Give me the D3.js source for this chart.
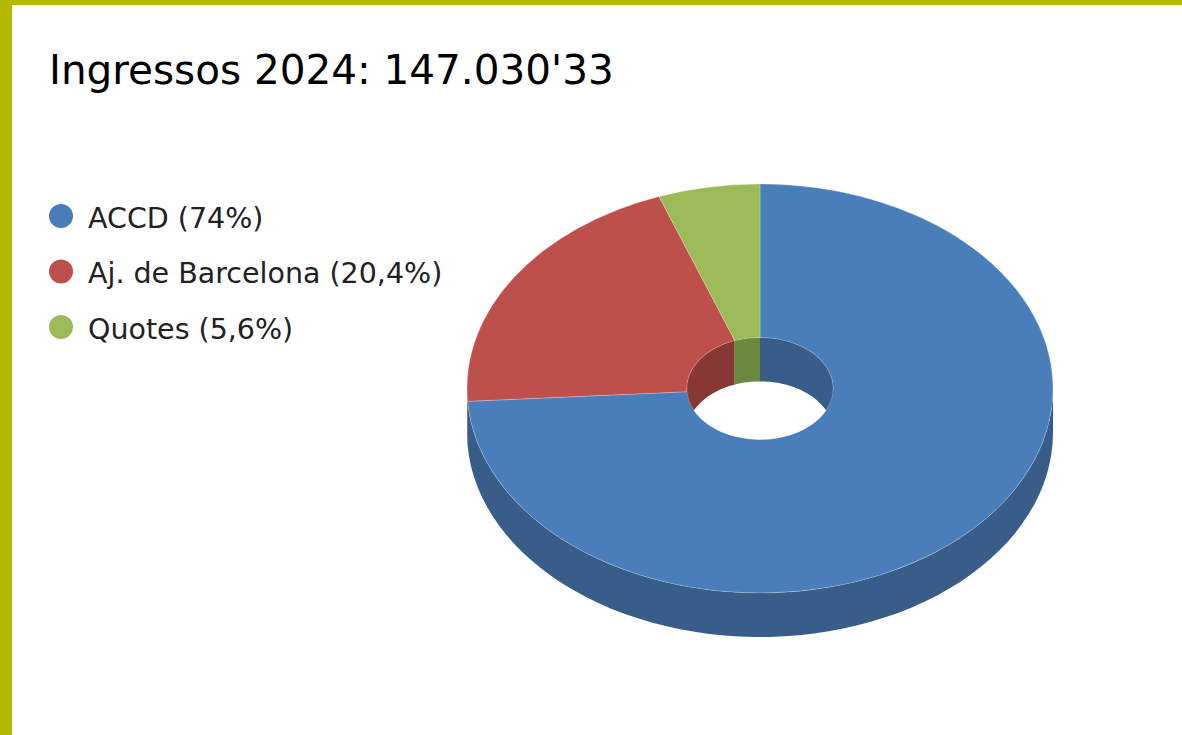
<!DOCTYPE html>
<html>
<head>
<meta charset="utf-8">
<script src="https://cdn.jsdelivr.net/npm/d3@7"></script>
<style>
  html, body { margin: 0; padding: 0; background: #fff; }
  svg { display: block; }
</style>
</head>
<body>
<div id="chart"></div>
<script>
// chart data
const titleText = "Ingressos 2024: 147.030'33";
const categories = ['ACCD', 'Aj. de Barcelona', 'Quotes'];
const shares = [74, 20.4, 5.6];
const shareLabels = ['74%', '20,4%', '5,6%'];
const topColors = ['#4a7ebb', '#be504c', '#9bbb59'];
const sideColors = ['#385d88', '#883834', '#6a8a3d'];

const width = 1182;
const height = 735;

const svg = d3.select('#chart').append('svg')
    .attr('width', width)
    .attr('height', height);

// frame
svg.append('rect').attr('x', 0).attr('y', 0).attr('width', width).attr('height', height).attr('fill', '#b3ba00');
svg.append('rect').attr('x', 12).attr('y', 5).attr('width', width - 12).attr('height', height - 5).attr('fill', '#fff');

svg.append('text')
    .attr('x', 49)
    .attr('y', 84)
    .attr('font-family', 'DejaVu Sans, Verdana, sans-serif')
    .attr('font-size', 40.5)
    .attr('fill', '#000')
    .text(titleText);

// legend
const legend = svg.append('g').selectAll('g')
    .data(categories)
    .join('g')
    .attr('transform', (d, i) => `translate(0,${216 + i * 55.5})`);

legend.append('circle')
    .attr('cx', 61).attr('cy', 0).attr('r', 12)
    .attr('fill', (d, i) => topColors[i]);

legend.append('text')
    .attr('x', 88).attr('y', 11.5)
    .attr('font-family', 'DejaVu Sans, Verdana, sans-serif')
    .attr('font-size', 28.5)
    .attr('fill', '#222')
    .text((d, i) => `${d} (${shareLabels[i]})`);

// 3d donut geometry
const cx = 760, cy = 388.5;
const rx = 293, ry = 204.5;
const holeRatio = 0.25;
const depth = 44;

const pie = d3.pie().sort(null).value(d => d)(shares);

// angle measured clockwise from 12 o'clock
const px = (a, r) => cx + r * rx * Math.sin(a);
const py = (a, r, dz) => cy - r * ry * Math.cos(a) + dz;

const line = d3.line();
const steps = a => d3.range(0, 61).map(k => a[0] + (a[1] - a[0]) * k / 60);

function clipRange(a0, a1, lo, hi) {
    const s = Math.max(a0, lo), e = Math.min(a1, hi);
    return s < e ? [s, e] : null;
}

function wallPath(range, r) {
    const ang = steps(range);
    const top = ang.map(a => [px(a, r), py(a, r, 0)]);
    const bot = ang.slice().reverse().map(a => [px(a, r), py(a, r, depth)]);
    return line(top.concat(bot)) + 'Z';
}

const body = svg.append('g');

// outer walls, front half (pi/2 .. 3pi/2)
pie.forEach((p, i) => {
    const rg = clipRange(p.startAngle, p.endAngle, Math.PI / 2, 3 * Math.PI / 2);
    if (rg) body.append('path').attr('d', wallPath(rg, 1)).attr('fill', sideColors[i]);
});

// inner walls, back half of the hole
pie.forEach((p, i) => {
    [[0, Math.PI / 2], [3 * Math.PI / 2, 2 * Math.PI]].forEach(win => {
        const rg = clipRange(p.startAngle, p.endAngle, win[0], win[1]);
        if (rg) body.append('path').attr('d', wallPath(rg, holeRatio)).attr('fill', sideColors[i]);
    });
});

// top faces
const arc = d3.arc().innerRadius(rx * holeRatio).outerRadius(rx);
body.append('g')
    .attr('transform', `translate(${cx},${cy}) scale(1,${ry / rx})`)
    .selectAll('path')
    .data(pie)
    .join('path')
    .attr('d', arc)
    .attr('fill', (d, i) => topColors[i])
    .attr('stroke', '#ffffff')
    .attr('stroke-opacity', 0.35)
    .attr('stroke-width', 0.8);
</script>
</body>
</html>
